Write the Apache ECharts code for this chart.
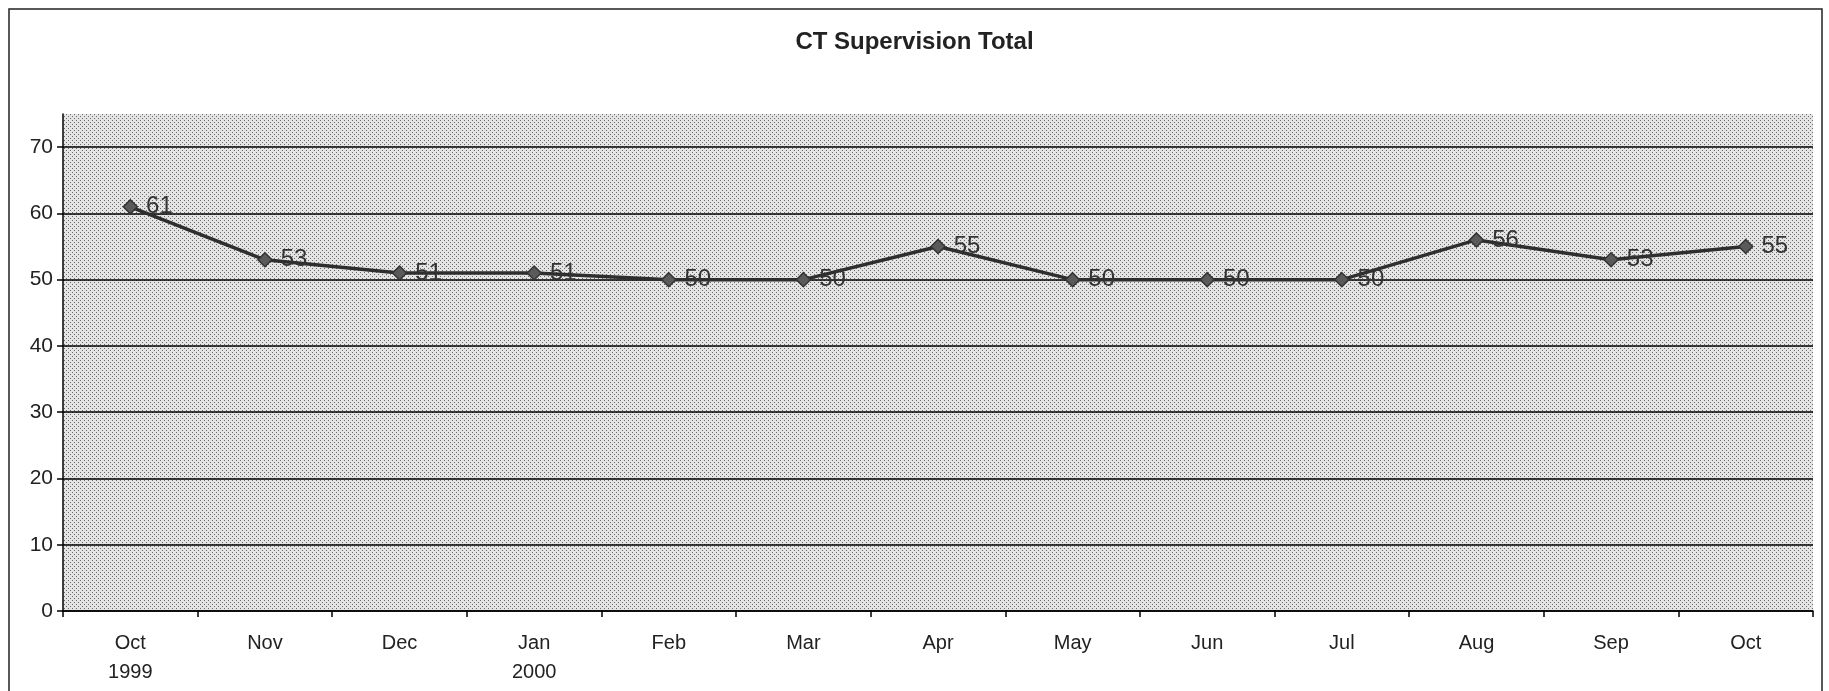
<!DOCTYPE html>
<html><head><meta charset="utf-8">
<script src="https://cdn.jsdelivr.net/npm/echarts@6/dist/echarts.min.js"></script>
<style>html,body{margin:0;padding:0;background:#fff}#c{width:1829px;height:691px}</style>
</head><body><div id="c"></div>
<script>
const categories = ['Oct\n1999','Nov','Dec','Jan\n2000','Feb','Mar','Apr','May','Jun','Jul','Aug','Sep','Oct'];
const values = [61,53,51,51,50,50,55,50,50,50,56,53,55];
const yTicks = [0,10,20,30,40,50,60,70];
const titleText = 'CT Supervision Total';

// dotted plot-area texture
const pc = document.createElement('canvas');
pc.width = 4; pc.height = 4;
const g = pc.getContext('2d');
g.fillStyle = '#e4e4e4'; g.fillRect(0,0,4,4);
g.fillStyle = '#6a6a6a'; g.fillRect(0,0,1,1); g.fillRect(2,2,1,1);

const chart = echarts.init(document.getElementById('c'), null, {renderer:'canvas'});
chart.setOption({
  backgroundColor:'#fff',
  animation:false,
  title:{text:titleText,left:'center',top:25,textStyle:{fontFamily:'Liberation Sans, Arial',fontWeight:'bold',fontSize:24,color:'#222'}},
  graphic:[{type:'rect',shape:{x:9,y:9,width:1813,height:700},style:{fill:'none',stroke:'#222',lineWidth:1.5},silent:true}],
  grid:{left:63,right:16,top:114,bottom:80,show:true,backgroundColor:{image:pc,repeat:'repeat'},borderWidth:0},
  xAxis:{type:'category',data:categories,boundaryGap:true,
    axisLine:{lineStyle:{color:'#000',width:1.5}},
    axisTick:{show:true,length:6,inside:false,lineStyle:{color:'#000',width:1.5}},
    axisLabel:{fontFamily:'Liberation Sans, Arial',fontSize:20,color:'#222',margin:18,lineHeight:29}},
  yAxis:{type:'value',min:0,max:75,interval:10,
    axisLine:{show:true,lineStyle:{color:'#000',width:1.5}},
    axisTick:{show:true,length:6,customValues:yTicks,lineStyle:{color:'#000',width:1.5}},
    axisLabel:{customValues:yTicks,fontFamily:'Liberation Sans, Arial',fontSize:21,color:'#222',margin:10},
    splitLine:{show:true,lineStyle:{color:['#000','#000','#000','#000','#000','#000','#000','#000','rgba(0,0,0,0)'],width:1.5}}},
  series:[{type:'line',data:values,symbol:'diamond',symbolSize:14,
    lineStyle:{color:'#2e2e2e',width:3.5},
    itemStyle:{color:'#5a5a5a',borderColor:'#333',borderWidth:1.5},
    label:{show:true,position:'right',distance:8,fontFamily:'Liberation Sans, Arial',fontSize:24,color:'#333'}}]
});
</script></body></html>
